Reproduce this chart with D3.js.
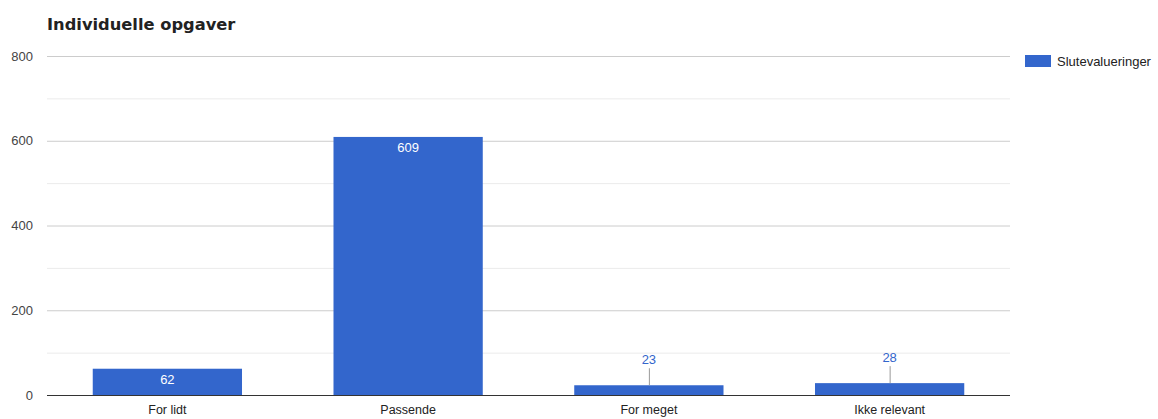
<!DOCTYPE html>
<html><head><meta charset="utf-8">
<script src="https://cdn.jsdelivr.net/npm/d3@7"></script>
<style>body{margin:0;background:#fff}svg{display:block}</style>
</head><body>
<svg id="c" width="1158" height="419"></svg>
<script>
const categories = ["For lidt", "Passende", "For meget", "Ikke relevant"];
const values = [62, 609, 23, 28];
const seriesName = "Slutevalueringer";
const majorTicks = [0, 200, 400, 600, 800];
const minorTicks = [100, 300, 500, 700];
const title = "Individuelle opgaver";

const svg = d3.select("#c");
const m = {l: 47, r: 1010, t: 56, b: 395};
const x = d3.scaleBand().domain(categories).range([m.l, m.r]).paddingInner(0.38).paddingOuter(0.19);
const y = d3.scaleLinear().domain([0, 800]).range([m.b, m.t]);
const font = "Liberation Sans, Arial, sans-serif";

svg.append("text").attr("x", 47).attr("y", 30).text(title)
  .attr("font-family", "DejaVu Sans, Verdana, sans-serif").attr("font-weight", "bold")
  .attr("font-size", 16.3).attr("fill", "#222");

svg.append("g").selectAll("line").data(minorTicks).join("line")
  .attr("x1", m.l).attr("x2", m.r).attr("y1", d => y(d) + 0.5).attr("y2", d => y(d) + 0.5)
  .attr("stroke", "#ebebeb");
svg.append("g").selectAll("line").data(majorTicks.filter(d => d > 0)).join("line")
  .attr("x1", m.l).attr("x2", m.r).attr("y1", d => y(d) + 0.5).attr("y2", d => y(d) + 0.5)
  .attr("stroke", "#cccccc");

const yAxis = d3.axisLeft(y).tickValues(majorTicks).tickSize(0).tickPadding(14);
const ya = svg.append("g").attr("transform", `translate(${m.l},0)`).call(yAxis);
ya.select(".domain").remove();
ya.selectAll("text").attr("font-family", font).attr("font-size", 13).attr("fill", "#444");

svg.append("g").selectAll("rect").data(values).join("rect")
  .attr("x", (d, i) => x(categories[i])).attr("width", x.bandwidth())
  .attr("y", d => y(d)).attr("height", d => y(0) - y(d)).attr("fill", "#3366cc");

svg.append("line").attr("x1", m.l).attr("x2", m.r).attr("y1", m.b + 0.5).attr("y2", m.b + 0.5)
  .attr("stroke", "#333").attr("stroke-width", 1);

const xAxis = d3.axisBottom(x).tickSize(0).tickPadding(10);
const xa = svg.append("g").attr("transform", `translate(0,${m.b})`).call(xAxis);
xa.select(".domain").remove();
xa.selectAll("text").attr("font-family", font).attr("font-size", 12.5).attr("fill", "#222");

const lab = svg.append("g");
values.forEach((v, i) => {
  const cx = x(categories[i]) + x.bandwidth() / 2;
  const h = y(0) - y(v);
  if (h > 20) {
    lab.append("text").attr("x", cx).attr("y", y(v) + 15).attr("text-anchor", "middle")
      .attr("font-family", font).attr("font-size", 13).attr("fill", "#fff").text(v);
  } else {
    lab.append("line").attr("x1", cx + 0.5).attr("x2", cx + 0.5)
      .attr("y1", y(v)).attr("y2", y(v) - 17).attr("stroke", "#999");
    lab.append("text").attr("x", cx).attr("y", y(v) - 21).attr("text-anchor", "middle")
      .attr("font-family", font).attr("font-size", 13).attr("fill", "#3366cc").text(v);
  }
});

const lg = svg.append("g");
lg.append("rect").attr("x", 1025).attr("y", 55).attr("width", 26).attr("height", 12).attr("fill", "#3366cc");
lg.append("text").attr("x", 1057).attr("y", 66).text(seriesName)
  .attr("font-family", font).attr("font-size", 13).attr("fill", "#222");
</script>
</body></html>
